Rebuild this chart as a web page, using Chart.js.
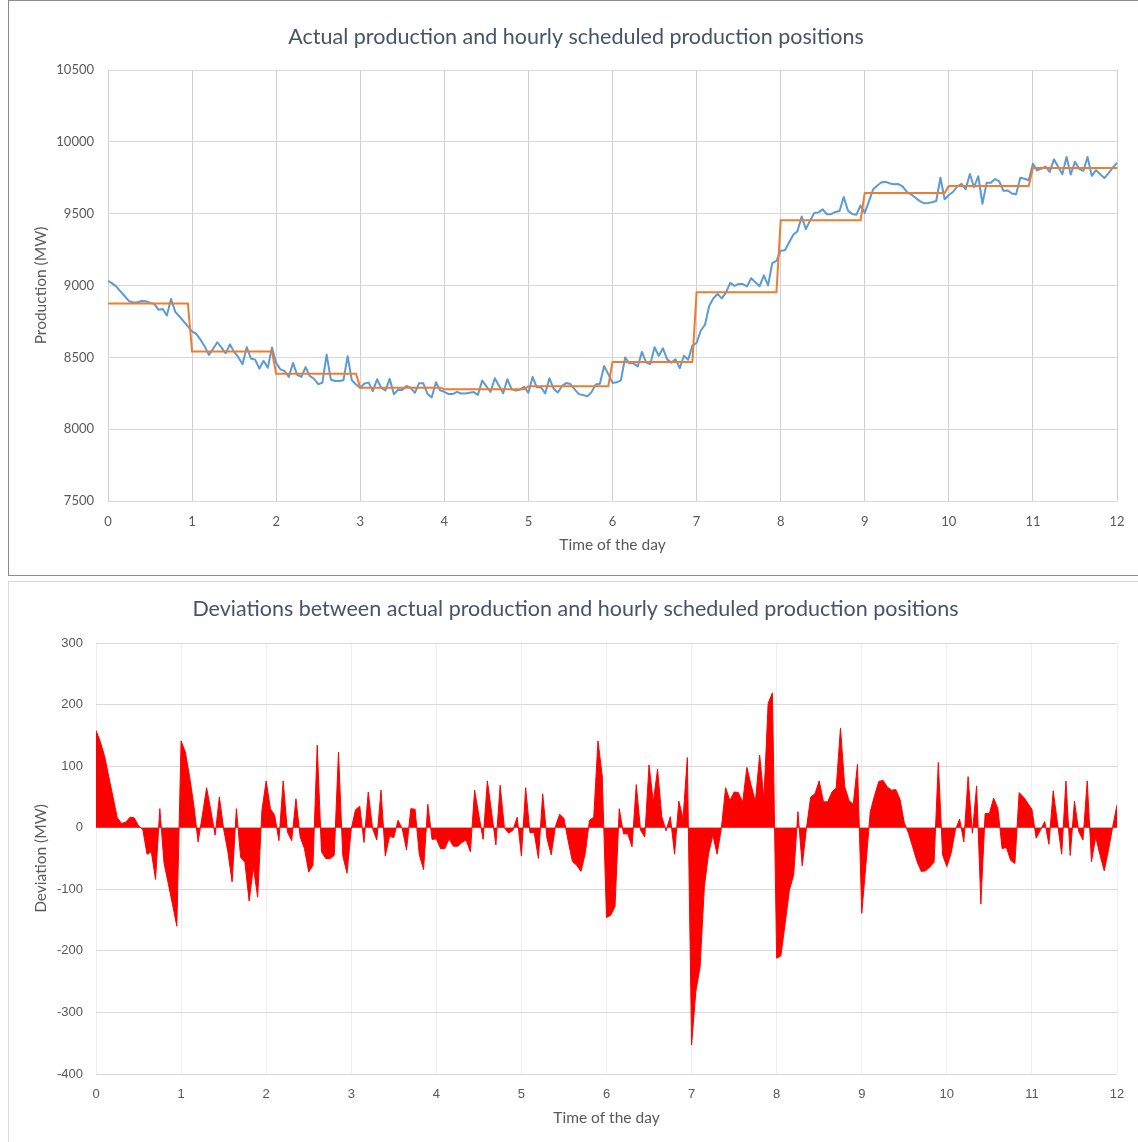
<!DOCTYPE html>
<html>
<head>
<meta charset="utf-8">
<title>Production réelle vs programme horaire</title>
<script src="https://cdn.jsdelivr.net/npm/chart.js@4.4.1/dist/chart.umd.min.js"></script>
<style>
    html, body { margin: 0; padding: 0; background: #fff; overflow: hidden; }
    .box { position: absolute; left: 8px; background: #fff; }
    #topBox { top: 0; width: 1134px; height: 574px; border: 1px solid #8c8c8c; }
    #bottomBox { top: 581px; width: 1134px; height: 570px; border: 1px solid #d9d9d9; }
    canvas { display: block; }
</style>
</head>
<body>
<div class="box" id="topBox"><canvas id="productionChart" width="1134" height="574"></canvas></div>
<div class="box" id="bottomBox"><canvas id="deviationChart" width="1134" height="560"></canvas></div>

<script>
// --- Données (une mesure toutes les 3 minutes, 0 h -> 12 h) ---
const STEP_MIN = 3;
const hourTicks = [0, 12];
const prodRange = [7500, 10500];
const devRange = [-400, 300];

// programme horaire (MW), une valeur par heure
const scheduledHourly = [8875, 8540, 8385, 8289, 8278, 8299, 8468, 8953, 9454, 9644, 9693, 9818];

// production réelle (MW)
const actualMW = [
    9033, 9015, 8992, 8958, 8925, 8891, 8882, 8884, 8892, 8891, 8878, 8872, 8832, 8836, 8791, 8906, 8817, 8784, 8750, 8715,
    8681, 8663, 8623, 8576, 8517, 8560, 8605, 8568, 8528, 8590, 8538, 8501, 8452, 8571, 8492, 8484, 8421, 8476, 8427, 8568,
    8461, 8416, 8405, 8364, 8461, 8378, 8364, 8432, 8370, 8351, 8313, 8324, 8519, 8346, 8335, 8335, 8340, 8508, 8340, 8311,
    8287, 8318, 8324, 8265, 8347, 8288, 8269, 8350, 8243, 8275, 8273, 8301, 8287, 8253, 8320, 8319, 8245, 8221, 8327, 8270,
    8260, 8244, 8244, 8260, 8248, 8248, 8254, 8258, 8239, 8339, 8298, 8259, 8354, 8303, 8250, 8347, 8278, 8269, 8274, 8295,
    8253, 8364, 8291, 8291, 8249, 8354, 8282, 8255, 8301, 8321, 8314, 8277, 8244, 8238, 8228, 8257, 8311, 8316, 8440, 8383,
    8322, 8326, 8340, 8499, 8458, 8458, 8437, 8538, 8464, 8453, 8570, 8510, 8563, 8486, 8463, 8486, 8425, 8511, 8483, 8582,
    8600, 8687, 8727, 8857, 8911, 8941, 8910, 8952, 9018, 8997, 9011, 9010, 8994, 9051, 9022, 8995, 9071, 9001, 9155, 9172,
    9242, 9246, 9299, 9353, 9377, 9480, 9392, 9453, 9504, 9509, 9530, 9496, 9496, 9512, 9519, 9616, 9521, 9498, 9492, 9557,
    9505, 9586, 9670, 9696, 9719, 9721, 9710, 9705, 9706, 9690, 9652, 9635, 9612, 9589, 9573, 9574, 9580, 9588, 9750, 9600,
    9630, 9651, 9689, 9707, 9670, 9776, 9684, 9761, 9569, 9716, 9716, 9741, 9724, 9659, 9661, 9640, 9635, 9750, 9743, 9733,
    9848, 9801, 9814, 9828, 9791, 9878, 9826, 9775, 9894, 9773, 9861, 9812, 9798, 9894, 9763, 9803, 9774, 9748, 9782, 9820,
    9855
];

// écart réel - programme (MW)
const deviationMW = [
    158, 140, 117, 83, 50, 16, 7, 9, 17, 16, 3, -3, -43, -39, -84, 31, -58, -91, -125, -160,
    141, 123, 83, 36, -23, 20, 65, 28, -12, 50, -2, -39, -88, 31, -48, -56, -119, -64, -113, 28,
    76, 31, 20, -21, 76, -7, -21, 47, -15, -34, -72, -61, 134, -39, -50, -50, -45, 123, -45, -74,
    -2, 29, 35, -24, 58, -1, -20, 61, -46, -14, -16, 12, -2, -36, 31, 30, -44, -68, 38, -19,
    -18, -34, -34, -18, -30, -30, -24, -20, -39, 61, 20, -19, 76, 25, -28, 69, 0, -9, -4, 17,
    -46, 65, -8, -8, -50, 55, -17, -44, 2, 22, 15, -22, -55, -61, -71, -42, 12, 17, 141, 84,
    -146, -142, -128, 31, -10, -10, -31, 70, -4, -15, 102, 42, 95, 18, -5, 18, -43, 43, 15, 114,
    -353, -266, -226, -96, -42, -12, -43, -1, 65, 44, 58, 57, 41, 98, 69, 42, 118, 48, 202, 219,
    -212, -208, -155, -101, -77, 26, -62, -1, 50, 55, 76, 42, 42, 58, 65, 162, 67, 44, 38, 103,
    -139, -58, 26, 52, 75, 77, 66, 61, 62, 46, 8, -9, -32, -55, -71, -70, -64, -56, 106, -44,
    -63, -42, -4, 14, -23, 83, -9, 68, -124, 23, 23, 48, 31, -34, -32, -53, -58, 57, 50, 40,
    30, -17, -4, 10, -27, 60, 8, -43, 76, -45, 43, -6, -20, 76, -55, -15, -44, -70, -36, 2,
    37
];

const TITLE_COLOR = '#44546a';
const TEXT_COLOR = '#595959';
const ARIAL = '"Liberation Sans", Arial, sans-serif';
const STEPS_PER_HOUR = 60 / STEP_MIN;

function toPoints(values) {
    return values.map((v, i) => ({ x: i / STEPS_PER_HOUR, y: v }));
}

// marches du programme : valeur tenue jusqu'à la dernière mesure de l'heure
function scheduleSteps() {
    const pts = [];
    scheduledHourly.forEach((v, h) => {
        pts.push({ x: h, y: v });
        pts.push({ x: h + (STEPS_PER_HOUR - 1) / STEPS_PER_HOUR, y: v });
    });
    pts.push({ x: hourTicks[1], y: scheduledHourly[scheduledHourly.length - 1] });
    return pts;
}

function xScale(gridColor, tickFont, titlePadBottom, height) {
    return {
        type: 'linear', min: hourTicks[0], max: hourTicks[1],
        ticks: { stepSize: 1, color: TEXT_COLOR, font: tickFont, padding: 13, maxRotation: 0 },
        grid: { color: gridColor, drawTicks: false },
        border: { display: false },
        title: { display: true, text: 'Time of the day', color: TEXT_COLOR, font: { size: 15.5 }, padding: { top: 0, bottom: titlePadBottom } },
        afterFit: (s) => { s.height = height; }
    };
}

function yTitle(text, padTop) {
    return { display: true, text: text, color: TEXT_COLOR, font: { size: 15.5 }, padding: { top: padTop, bottom: 0 } };
}

Chart.defaults.font.family = 'Lato, "Open Sans", sans-serif';
Chart.defaults.animation = false;

// ========== GRAPHIQUE 1 : production ==========
new Chart(document.getElementById('productionChart'), {
    type: 'line',
    data: {
        datasets: [
            { label: 'Scheduled', data: scheduleSteps(), borderColor: '#ed7d31', borderWidth: 2, pointRadius: 0, tension: 0 },
            { label: 'Actual', data: toPoints(actualMW), borderColor: '#5b9bd5', borderWidth: 2, pointRadius: 0, tension: 0, borderJoinStyle: 'round' }
        ]
    },
    options: {
        responsive: false,
        layout: { padding: { left: 26, right: 26, top: 0, bottom: 0 } },
        plugins: {
            legend: { display: false },
            tooltip: { enabled: false },
            title: { display: true, text: 'Actual production and hourly scheduled production positions', color: TITLE_COLOR, font: { size: 21.5, weight: 'normal' }, padding: { top: 23, bottom: 20.2 } }
        },
        scales: {
            x: xScale('#d0d0d0', { size: 13 }, 21, 74),
            y: {
                min: prodRange[0], max: prodRange[1],
                ticks: { stepSize: 500, color: TEXT_COLOR, font: { size: 13 }, padding: 14, callback: v => String(v) },
                grid: { color: '#d9d9d9', drawTicks: false },
                border: { display: false },
                title: yTitle('Production (MW)', -3),
                afterFit: (s) => { s.width = 73; }
            }
        }
    }
});

// ========== GRAPHIQUE 2 : écarts ==========
new Chart(document.getElementById('deviationChart'), {
    type: 'line',
    data: {
        datasets: [
            { label: 'Deviation', data: toPoints(deviationMW), borderColor: '#ff0000', backgroundColor: '#ff0000', borderWidth: 1, fill: 'origin', pointRadius: 0, tension: 0 }
        ]
    },
    options: {
        responsive: false,
        layout: { padding: { left: 25, right: 26, top: 0, bottom: 0 } },
        plugins: {
            legend: { display: false },
            tooltip: { enabled: false },
            title: { display: true, text: 'Deviations between actual production and hourly scheduled production positions', color: TITLE_COLOR, font: { size: 21.5, weight: 'normal' }, padding: { top: 14, bottom: 21.2 } }
        },
        scales: {
            x: xScale('#efefef', { size: 13, family: ARIAL }, 15, 68),
            y: {
                min: devRange[0], max: devRange[1],
                ticks: { stepSize: 100, color: TEXT_COLOR, font: { size: 13, family: ARIAL }, padding: 13, callback: v => String(v) },
                grid: { color: '#d9d9d9', drawTicks: false },
                border: { display: false },
                title: yTitle('Deviation (MW)', -2),
                afterFit: (s) => { s.width = 62; }
            }
        }
    }
});
</script>
</body>
</html>
